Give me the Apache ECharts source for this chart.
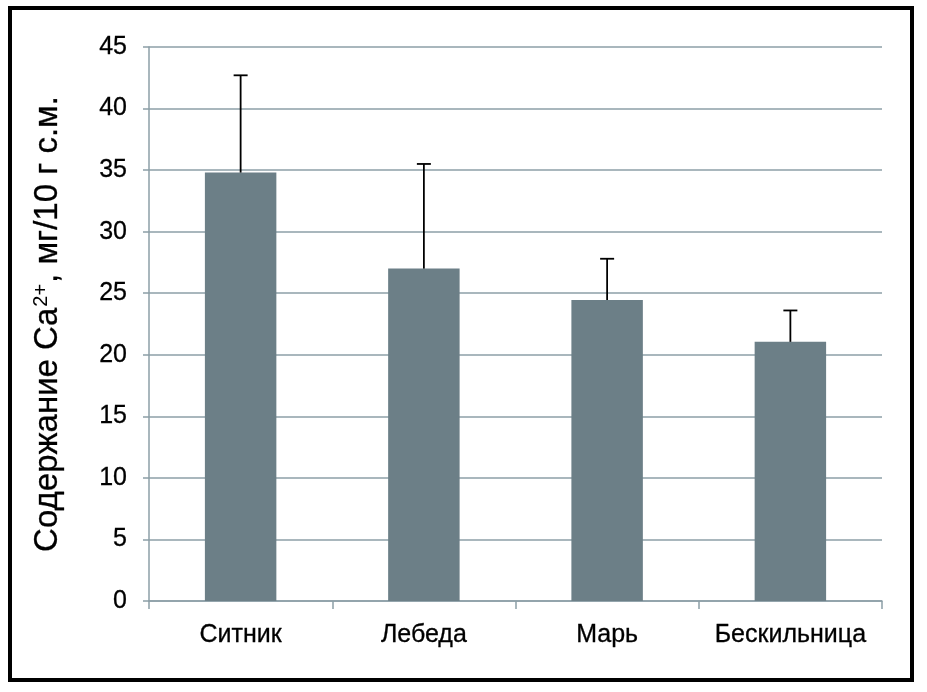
<!DOCTYPE html>
<html>
<head>
<meta charset="utf-8">
<script src="https://cdn.jsdelivr.net/npm/echarts@6/dist/echarts.min.js"></script>
<style>
html,body{margin:0;padding:0;background:#fff;}
#c{width:927px;height:692px;}
</style>
</head>
<body>
<div id="c"></div>
<script>
var categories = ['Ситник', 'Лебеда', 'Марь', 'Бескильница'];
var means = [34.8, 27.0, 24.45, 21.05];
var errPlus = [7.9, 8.5, 3.35, 2.55];
var yTicks = {min: 0, max: 45, interval: 5};

var chart = echarts.init(document.getElementById('c'), null, {renderer: 'canvas'});
var FONT = '"Liberation Sans", Arial, sans-serif';
var gridColor = '#8c9fa7';
var errData = means.map(function (m, i) { return [i, m, m + errPlus[i]]; });

chart.setOption({
  animation: false,
  backgroundColor: '#fff',
  textStyle: {fontFamily: FONT},
  graphic: [{
    type: 'rect',
    shape: {x: 10, y: 8, width: 902, height: 672},
    style: {fill: 'none', stroke: '#000', lineWidth: 4},
    z: 100
  }],
  grid: {left: 149, right: 45, top: 47, bottom: 91},
  xAxis: {
    type: 'category',
    data: categories,
    axisLine: {lineStyle: {color: gridColor, width: 1.5}},
    axisTick: {show: true, interval: 0, length: 8, lineStyle: {color: gridColor, width: 1.5}},
    axisLabel: {interval: 0, hideOverlap: false, color: '#000', fontSize: 25, margin: 22, fontFamily: FONT, textBorderColor: '#000', textBorderWidth: 0.3}
  },
  yAxis: {
    type: 'value',
    min: yTicks.min, max: yTicks.max, interval: yTicks.interval,
    axisLine: {show: true, lineStyle: {color: gridColor, width: 1.5}},
    axisTick: {show: true, length: 6, lineStyle: {color: gridColor, width: 1.5}},
    splitLine: {lineStyle: {color: gridColor, width: 1.5}},
    axisLabel: {color: '#000', fontSize: 25, margin: 22, fontFamily: FONT, textBorderColor: '#000', textBorderWidth: 0.3},
    name: '{a|Содержание Ca}{s|2+}{a|, мг/10 г с.м.}',
    nameLocation: 'middle',
    nameGap: 84,
    nameRotate: 90,
    nameTextStyle: {
      rich: {
        a: {fontSize: 33, color: '#000', fontFamily: FONT, textBorderColor: '#000', textBorderWidth: 0.3},
        s: {fontSize: 20, color: '#000', fontFamily: FONT, verticalAlign: 'top', padding: [0, 1, 14, 1]}
      }
    }
  },
  series: [{
    type: 'bar',
    data: means,
    barWidth: '39%',
    itemStyle: {color: '#6c7f87'},
    z: 2
  }, {
    type: 'custom',
    data: errData,
    z: 3,
    renderItem: function (params, api) {
      var x = api.value(0);
      var p0 = api.coord([x, api.value(1)]);
      var p1 = api.coord([x, api.value(2)]);
      var hw = 7;
      var st = {stroke: '#000', lineWidth: 1.8};
      return {
        type: 'group',
        children: [
          {type: 'line', shape: {x1: p0[0], y1: p0[1], x2: p1[0], y2: p1[1]}, style: st},
          {type: 'line', shape: {x1: p1[0] - hw, y1: p1[1], x2: p1[0] + hw, y2: p1[1]}, style: st}
        ]
      };
    }
  }]
});
</script>
</body>
</html>
